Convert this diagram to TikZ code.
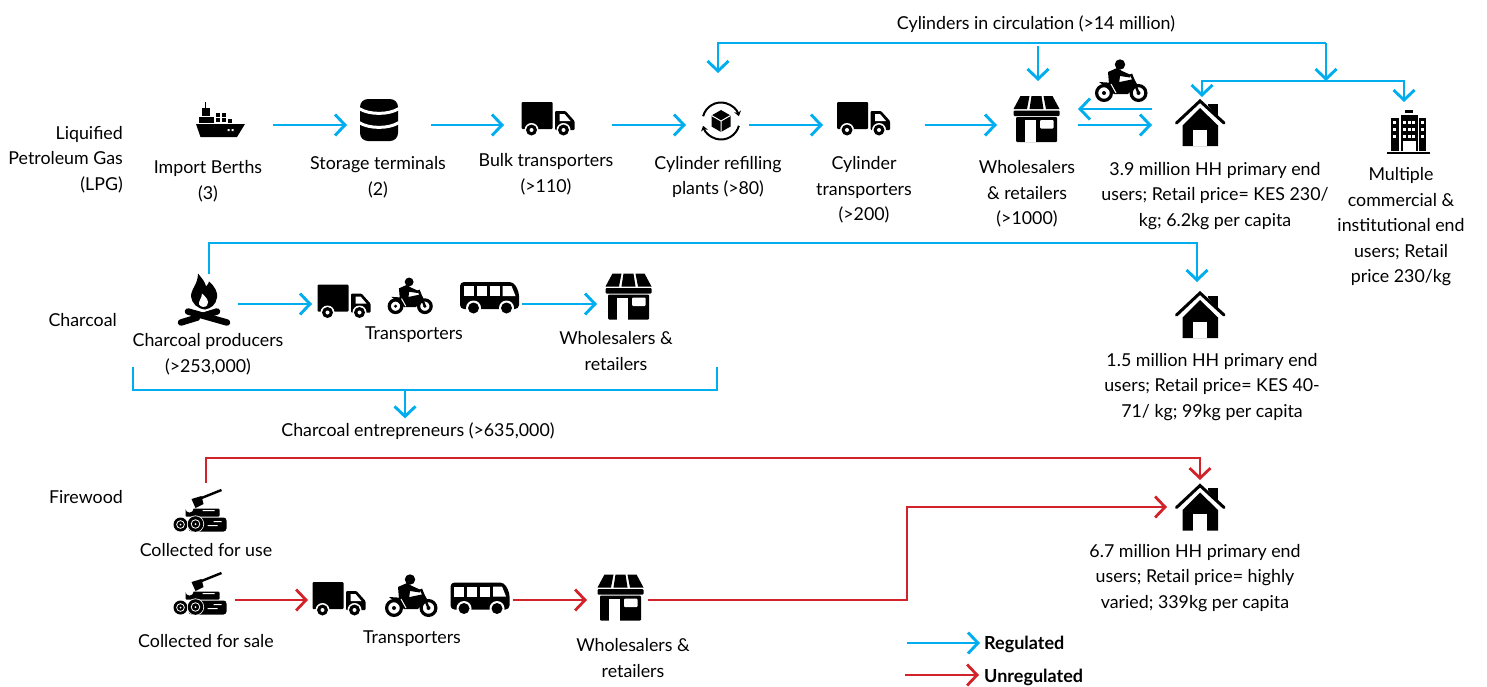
\documentclass[tikz,border=0pt]{standalone}
\usepackage{fontspec}
\setmainfont{Lato}
\usetikzlibrary{arrows.meta, calc}
\definecolor{regblue}{HTML}{00AEEF}
\definecolor{unregred}{HTML}{D2232A}
\tikzset{
x=1pt, y=-1pt, % picture is laid out in reference pixels, y pointing down
>={Straight Barb[length=10pt,width=21pt]}, % open arrow heads
reg/.style={->, draw=regblue, line width=2.9pt}, % regulated flow
regline/.style={draw=regblue, line width=2.9pt},
unreg/.style={->, draw=unregred, line width=2.8pt}, % unregulated flow
iconbox/.style={inner sep=0pt, outer sep=0pt, minimum height=40pt}, % invisible anchor of an icon
txt/.style={align=center, inner sep=0pt, yshift=-1pt, font=\fontsize{17.8}{25.5}\selectfont},
sidetxt/.style={txt, align=right, anchor=east},
keytxt/.style={inner sep=0pt, anchor=west, yshift=-2pt, font=\fontsize{18}{20}\selectfont\bfseries},
truckicon/.pic={
  \fill[rounded corners=1pt] (-26,-17) rectangle (5,10);
  \fill[rounded corners=1pt] (7.5,-8) -- (18,-8) -- (27,2) -- (27,11) -- (7.5,11) -- cycle;
  \fill[white] (12,-5) -- (17,-5) -- (23,2) -- (12,2) -- cycle;
  \foreach \wx in {-16,16} {
    \fill[white] (\wx,11) circle (7);
    \fill (\wx,11) circle (5.5);
    \fill[white] (\wx,11) circle (2);
  }
},
busicon/.pic={
  \fill[rounded corners=4pt] (-29.5,-16) -- (24,-16) -- (29.5,-6) -- (29.5,11) -- (-29.5,11) -- cycle;
  \foreach \wx in {-26,-13,0} \fill[white] (\wx,-12) rectangle ++(10,10);
  \fill[white] (13,-12) -- (22,-12) -- (26,-2) -- (13,-2) -- cycle;
  \foreach \wx in {-16,17} {
    \fill[white] (\wx,10) circle (7.5);
    \fill (\wx,10) circle (5.5);
  }
},
bikeicon/.pic={
  \foreach \wx in {-17,17.5} {
    \draw[line width=3.2pt] (\wx,12) circle (7.4);
    \fill (\wx,12) circle (2);
  }
  \fill (-1,-16.5) circle (5.2);
  \fill (-13,-9) -- (-4,-13) -- (1,-10) -- (10,-6) -- (9,-3.5) -- (-1,-5) -- (-2,3) -- (-12,3) -- cycle;
  \fill (-22,1) -- (-6,2) -- (13,-2) -- (16,3) -- (7,13) -- (-7,13) -- (-14,7) -- cycle;
  \draw[line width=2.4pt] (10,-7) -- (17.5,12);
  \draw[white, line width=1pt] (-10,3) -- (-5,12);
},
shopicon/.pic={
  \fill (-16,-23) -- (-7,-23) -- (-9.5,-10) -- (-23,-10) -- cycle;
  \fill (-5,-23) -- (5,-23) -- (7,-10) -- (-7,-10) -- cycle;
  \fill (7,-23) -- (16,-23) -- (23,-10) -- (9.5,-10) -- cycle;
  \fill[rounded corners=1pt] (-23,-8.5) rectangle (23,-3);
  \fill[rounded corners=1pt] (-20.5,-2) rectangle (20.5,23);
  \fill[white] (-12,1) rectangle (-1,23);
  \fill[white, rounded corners=1pt] (3.5,1) rectangle (17,9.5);
},
houseicon/.pic={
  \fill (8,-19) rectangle (18,-6);
  \fill[white] (-3,-23) -- (3,-23) -- (18,-4) -- (-18,-4) -- cycle;
  \draw[line width=3pt, line cap=round] (-23.5,0.5) -- (0,-21.5) -- (24,0.5);
  \fill (-17.5,3) -- (0,-14.5) -- (18,3) -- (18,23.5) -- (-17.5,23.5) -- cycle;
  \fill[white] (-7,7) rectangle (7,23.5);
},
shipicon/.pic={
  \fill (-24.5,4) -- (24.5,4) -- (16.5,17) -- (-20,17) -- cycle;
  \fill (-22,-3) rectangle (-7,3);
  \fill (-19,-12) rectangle (-11,-4);
  \fill (-15.7,-18) rectangle (-14.3,-12);
  \foreach \cx/\cy/\cz in {-5/-7/5, 1/-7/5, -5/-2/5, 1/-2/5, 7.5/-1/5} \fill (\cx,\cy) rectangle ++(\cz-.8,\cz-.8);
  \fill[white] (7,9) rectangle ++(2,2) (11,9) rectangle ++(2,2);
},
tankicon/.pic={
  \fill[rounded corners=8pt] (-19,-21) rectangle (19,21);
  \draw[white, line width=3pt] (-20,-11.5) .. controls (-10,-5) and (10,-5) .. (20,-11.5);
  \draw[white, line width=3pt] (-20,2.5) .. controls (-10,9) and (10,9) .. (20,2.5);
},
refillicon/.pic={
  \draw[line width=2pt, -{Stealth[length=5pt,width=7pt]}] (195:18.5) arc[start angle=195, end angle=345, radius=18.5];
  \draw[line width=2pt, -{Stealth[length=5pt,width=7pt]}] (15:18.5) arc[start angle=15, end angle=165, radius=18.5];
  \fill (0,-11) -- (9.5,-5.5) -- (9.5,5.5) -- (0,11) -- (-9.5,5.5) -- (-9.5,-5.5) -- cycle;
  \draw[white, line width=1pt] (-9.5,-5.5) -- (0,0) -- (9.5,-5.5) (0,0) -- (0,11);
},
fireicon/.pic={
  \fill (-6,-27) .. controls (-2,-22) and (1,-19) .. (2,-14) .. controls (4,-16) and (5,-18) .. (5,-19)
     .. controls (11,-14) and (14,-8) .. (13,-3) .. controls (12,4) and (7,8) .. (1,9)
     .. controls (-7,8) and (-12,3) .. (-13,-4) .. controls (-13,-12) and (-6,-16) .. (-6,-27) -- cycle;
  \fill[white] (-2,-7) .. controls (2,-3) and (6,0) .. (3,5) .. controls (1,7) and (-3,7) .. (-5,4) .. controls (-6,1) and (-2,-2) .. (-2,-7) -- cycle;
  \draw[line width=6.5pt, line cap=round] (-23,22) -- (13,11);
  \draw[white, line width=8pt] (-4,18) -- (7,22);
  \draw[line width=6.5pt, line cap=round] (-16,11) -- (23,22);
},
logsicon/.pic={
  \draw[line width=2.4pt] (2,-13) -- (22,-21);
  \fill (-8,-12) -- (2,-15) -- (4,-7) -- (-4,-3) -- cycle;
  \fill[rounded corners=1pt] (-14,-2.5) rectangle (20,5.5);
  \fill[rounded corners=3pt] (-11,6.5) rectangle (27,20.5);
  \fill[white] (3,-1) rectangle ++(12,1) (14,10) rectangle ++(8,1) (8,14) rectangle ++(10,1);
  \fill[white] (-10,-2.5) circle (4);
  \foreach \lx/\ly/\lr in {-19/13.5/7, -4/13/7.8} {
    \fill[white] (\lx,\ly) circle (\lr+.8);
    \fill (\lx,\ly) circle (\lr);
    \draw[white, line width=.8pt] (\lx,\ly) circle (\lr*.55);
    \fill[white] (\lx,\ly) circle (1);
  }
},
officeicon/.pic={
  \fill (-8,-18) rectangle (9,18);
  \fill (-18,-15) rectangle (-10,18);
  \fill (10,-15) rectangle (17.5,18);
  \fill (-4,-22.5) rectangle (4,-20);
  \fill (-22,19.5) rectangle (21.5,21.5);
  \foreach \wy in {-12,-5,2} {
    \fill[white] (-15.5,\wy) rectangle ++(3.2,3.2);
    \fill[white] (12.5,\wy) rectangle ++(3.2,3.2);
    \foreach \wx in {-5.5,-1,3.5} \fill[white] (\wx,\wy) rectangle ++(3,3);
  }
  \fill[white] (-6,8) rectangle (7,18);
},
}

\begin{document}
\begin{tikzpicture}
    \useasboundingbox (0,0) rectangle (1487,686);
    % LPG row
    \node[iconbox, minimum width=49] (ship) at (220.5,125) {};
    \node[iconbox, minimum width=38] (tank) at (379,125) {};
    \node[iconbox, minimum width=53] (bulk) at (547.5,125) {};
    \node[iconbox, minimum width=42] (refill) at (718,125) {};
    \node[iconbox, minimum width=53] (cyltruck) at (863,125) {};
    \node[iconbox, minimum width=48] (shopa) at (1038,125) {};
    \node[iconbox, minimum width=50] (housea) at (1202,125) {};
    \node[iconbox, minimum width=43] (office) at (1404,132) {};
    \pic at (220.5,120) {shipicon};
    \pic at (379,120) {tankicon};
    \pic at (547.5,119) {truckicon};
    \pic at (721,121) {refillicon};
    \pic at (863,119) {truckicon};
    \pic at (1036.5,119) {shopicon};
    \pic at (1121,81) {bikeicon};
    \pic at (1200,122.5) {houseicon};
    \pic at (1408.5,132.5) {officeicon};
    \coordinate (circR) at (1326,43);
    \coordinate (circL) at (718,43);
    \coordinate (circM) at (1038,46);
    \coordinate (split) at (1326,81);
    \draw[reg, shorten <=28, shorten >=13] (ship) -- (tank);
    \draw[reg, shorten <=33, shorten >=17] (tank) -- (bulk);
    \draw[reg, shorten <=38, shorten >=11] (bulk) -- (refill);
    \draw[reg, shorten <=10, shorten >=13.5] (refill) -- (cyltruck);
    \draw[reg, shorten <=35, shorten >=17] (cyltruck) -- (shopa);
    \draw[reg, shorten <=16, shorten >=25] (shopa) -- (housea);
    \draw[reg, shorten <=25, shorten >=16] ([yshift=16]housea.west) -- ([yshift=16]shopa.east);
    \draw[reg, shorten >=32] (circR) -- (circL) -- (refill);
    \draw[reg, shorten >=24] (circM) -- (shopa);
    \draw[reg] (circR) -- (split);
    \draw[reg, shorten >=8] (split) -| (housea);
    \draw[reg, shorten >=10] (split) -| (office);
    \node[sidetxt] (lpg) at (123,158.5) {Liquified\\Petroleum Gas\\(LPG)};
    \node[txt] (shiptxt) at (208,180) {Import Berths\\(3)};
    \node[txt] (tanktxt) at (378,176) {Storage terminals\\(2)};
    \node[txt] (bulktxt) at (546,173) {Bulk transporters\\(>110)};
    \node[txt] (refilltxt) at (718,176) {Cylinder refilling\\plants (>80)};
    \node[txt] (cyltxt) at (864,189) {Cylinder\\transporters\\(>200)};
    \node[txt] (shopatxt) at (1027,193) {Wholesalers\\\& retailers\\(>1000)};
    \node[txt] (houseatxt) at (1215,195) {3.9 million HH primary end\\users; Retail price= KES 230/\\kg; 6.2kg per capita};
    \node[txt] (officetxt) at (1401,226) {Multiple\\commercial \&\\institutional end\\users; Retail\\price 230/kg};
    \node[txt] (circtxt) at (1036,23) {Cylinders in circulation (>14 million)};
    % charcoal row
    \node[iconbox, minimum width=52, minimum height=60] (fire) at (209,304) {};
    \node[iconbox, minimum width=53] (trucka) at (343.5,304) {};
    \node[iconbox, minimum width=59] (busa) at (489.5,304) {};
    \node[iconbox, minimum width=47] (shopb) at (628.5,304) {};
    \node[iconbox, minimum width=50, minimum height=48] (houseb) at (1197,315) {};
    \pic at (204,300.5) {fireicon};
    \pic at (343.5,301.5) {truckicon};
    \pic[scale=.85] at (410,296) {bikeicon};
    \pic at (489.5,298) {busicon};
    \pic at (628.5,296.5) {shopicon};
    \pic at (1200,314.5) {houseicon};
    \coordinate (chL) at (209,243);
    \coordinate (chR) at (1197,243);
    \coordinate (brL) at (133,367);
    \coordinate (brR) at (717,367);
    \coordinate (brM) at (405,390);
    \draw[reg, shorten >=9] (fire) -- (chL) -- (chR) -- (houseb);
    \draw[reg, shorten <=3, shorten >=5] (fire) -- (trucka);
    \draw[reg, shorten <=3, shorten >=8] (busa) -- (shopb);
    \node[sidetxt] (chartxt) at (117,319) {Charcoal};
    \node[txt] (firetxt) at (208,353) {Charcoal producers\\(>253,000)};
    \node[txt] (transatxt) at (414,334) {Transporters};
    \node[txt] (shopbtxt) at (616,350) {Wholesalers \&\\retailers};
    \node[txt] (housebtxt) at (1212,386) {1.5 million HH primary end\\users; Retail price= KES 40-\\71/ kg; 99kg per capita};
    \node[txt] (entretxt) at (418,430) {Charcoal entrepreneurs (>635,000)};
    \draw[regline] (brL) |- (brM) -| (brR);
    \draw[reg, shorten >=4] (brM) -- (brM |- entretxt.north);
    % firewood row
    \node[iconbox, minimum width=55, minimum height=56] (logsa) at (206,511) {};
    \node[iconbox, minimum width=55] (logsb) at (199.5,600) {};
    \node[iconbox, minimum width=53] (truckb) at (338.5,600) {};
    \node[iconbox, minimum width=58] (busb) at (480,600) {};
    \node[iconbox, minimum width=47] (shopc) at (620.5,600) {};
    \node[iconbox, minimum width=50, minimum height=46] (housec) at (1200,507) {};
    \pic at (199.5,511) {logsicon};
    \pic at (199.5,594) {logsicon};
    \pic at (338.5,599) {truckicon};
    \pic at (411,596) {bikeicon};
    \pic at (480,598.5) {busicon};
    \pic at (620.5,597.5) {shopicon};
    \pic at (1200,507) {houseicon};
    \coordinate (fwL) at (206,458);
    \coordinate (fwR) at (1200,458);
    \coordinate (fwBend) at (907,507);
    \draw[unreg, shorten >=4] (logsa) -- (fwL) -- (fwR) -- (housec);
    \draw[unreg, shorten <=8, shorten >=4] (logsb) -- (truckb);
    \draw[unreg, shorten <=4, shorten >=10] (busb) -- (shopc);
    \draw[unreg, shorten <=4, shorten >=8] (shopc) -| (fwBend) -- (housec);
    \node[sidetxt] (woodtxt) at (123,496) {Firewood};
    \node[txt] (logsatxt) at (206,549) {Collected for use};
    \node[txt] (logsbtxt) at (206,640) {Collected for sale};
    \node[txt] (transbtxt) at (412,638) {Transporters};
    \node[txt] (shopctxt) at (633,657) {Wholesalers \&\\retailers};
    \node[txt] (housectxt) at (1195,577) {6.7 million HH primary end\\users; Retail price= highly\\varied; 339kg per capita};
    % key
    \node[keytxt] (regtxt) at (984,642) {Regulated};
    \node[keytxt] (unregtxt) at (984,675) {Unregulated};
    \coordinate (regstart) at (907,643);
    \coordinate (unregstart) at (905,675);
    \draw[reg, shorten >=4] (regstart) -- (regstart -| regtxt.west);
    \draw[unreg, shorten >=5] (unregstart) -- (unregstart -| unregtxt.west);
\end{tikzpicture}
\end{document}
